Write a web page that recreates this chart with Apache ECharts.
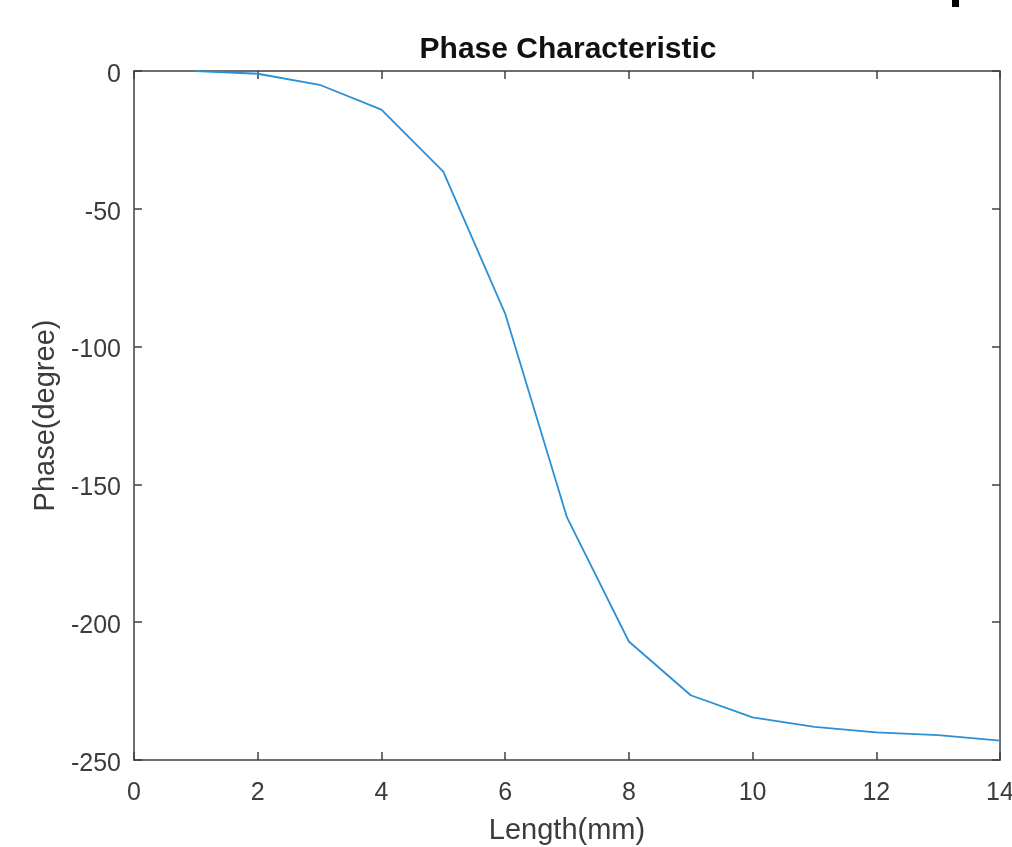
<!DOCTYPE html>
<html>
<head>
<meta charset="utf-8">
<style>
  html, body { margin: 0; padding: 0; background: #fff; }
  #chart { width: 1012px; height: 847px; }
</style>
<script src="https://cdn.jsdelivr.net/npm/echarts@6/dist/echarts.min.js"></script>
</head>
<body>
<div id="chart"></div>
<script>
// Phase response versus length
const lengthMm = [1, 2, 3, 4, 5, 6, 7, 8, 9, 10, 11, 12, 13, 14];
const phaseDeg = [0, -1, -5, -14, -36.5, -88, -162, -207, -226.5, -234.5, -238, -240, -241, -243];
const xTicks = [0, 2, 4, 6, 8, 10, 12, 14];
const yTicks = [0, -50, -100, -150, -200, -250];

const FONT = '"Liberation Sans", Arial, Helvetica, sans-serif';
const AXIS_COLOR = '#404040';
const LABEL_COLOR = '#3c3c3c';

const chart = echarts.init(document.getElementById('chart'), null, { renderer: 'canvas' });

const boxAxis = {
  axisLine: { show: true, onZero: false, lineStyle: { color: AXIS_COLOR, width: 1.5 } },
  axisTick: { show: true, inside: true, length: 8, lineStyle: { color: AXIS_COLOR, width: 1.5 } },
  splitLine: { show: false }
};

chart.setOption({
  animation: false,
  backgroundColor: '#fff',
  title: {
    text: 'Phase Characteristic',
    left: 563,
    textAlign: 'center',
    top: 30,
    textStyle: { fontFamily: FONT, fontWeight: 'bold', fontSize: 30, color: '#111' }
  },
  grid: {
    left: 134, right: 12, top: 71, bottom: 87,
    containLabel: false, outerBoundsMode: 'none'
  },
  xAxis: [
    Object.assign({
      type: 'value', min: 0, max: 14, interval: 2, position: 'bottom',
      name: 'Length(mm)', nameLocation: 'middle', nameGap: 56,
      nameTextStyle: { fontFamily: FONT, fontSize: 29, color: LABEL_COLOR },
      axisLabel: {
        fontFamily: FONT, fontSize: 25, color: LABEL_COLOR, margin: 21,
        formatter: v => xTicks.includes(v) ? String(v) : ''
      }
    }, boxAxis),
    Object.assign({
      type: 'value', min: 0, max: 14, interval: 2, position: 'top',
      axisLabel: { show: false }
    }, boxAxis)
  ],
  yAxis: [
    Object.assign({
      type: 'value', min: -250, max: 0, interval: 50, position: 'left',
      name: 'Phase(degree)', nameLocation: 'middle', nameGap: 74, nameRotate: 90,
      nameTextStyle: { fontFamily: FONT, fontSize: 29, color: LABEL_COLOR },
      axisLabel: {
        fontFamily: FONT, fontSize: 25, color: LABEL_COLOR, margin: 13,
        verticalAlign: 'top', lineHeight: 8,
        formatter: v => yTicks.includes(v) ? String(v) : ''
      }
    }, boxAxis),
    Object.assign({
      type: 'value', min: -250, max: 0, interval: 50, position: 'right',
      axisLabel: { show: false }
    }, boxAxis)
  ],
  series: [{
    type: 'line',
    xAxisIndex: 0,
    yAxisIndex: 0,
    data: lengthMm.map((x, i) => [x, phaseDeg[i]]),
    showSymbol: false,
    lineStyle: { color: '#2a8fd6', width: 1.8 },
    z: 3
  }],
  graphic: [{
    type: 'rect',
    shape: { x: 952, y: 0, width: 7, height: 7 },
    style: { fill: '#000' }
  }]
});
</script>
</body>
</html>
